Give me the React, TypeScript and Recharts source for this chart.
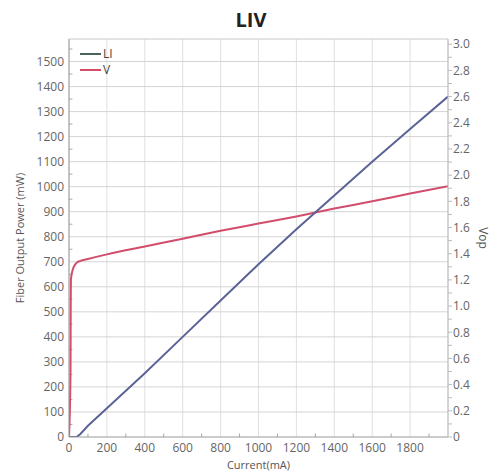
import React from 'react';
import { LineChart, Line, XAxis, YAxis, CartesianGrid, ReferenceLine } from 'recharts';

const currents = [0, 8, 9, 10, 15, 25, 40, 60, 100, 200, 400, 600, 800, 1000, 1200, 1400, 1600, 1800, 2000];
const liPower = [0, 0, 0, 0, 0, 0, 0, 12, 45, 115, 255, 400, 545, 690, 830, 965, 1100, 1230, 1360];
const vopValues = [0, 0.5, 1.0, 1.2, 1.25, 1.3, 1.33, 1.345, 1.36, 1.395, 1.455, 1.515, 1.575, 1.63, 1.685, 1.745, 1.8, 1.86, 1.915];

const xTicks = [0, 200, 400, 600, 800, 1000, 1200, 1400, 1600, 1800];
const powerTicks = [0, 100, 200, 300, 400, 500, 600, 700, 800, 900, 1000, 1100, 1200, 1300, 1400, 1500];
const vopTicks = [0, 0.1, 0.2, 0.3, 0.4, 0.5, 0.6, 0.7, 0.8, 0.9, 1.0, 1.1, 1.2, 1.3, 1.4, 1.5, 1.6, 1.7, 1.8, 1.9, 2.0, 2.1, 2.2, 2.3, 2.4, 2.5, 2.6, 2.7, 2.8, 2.9, 3.0];
const xMinor = [100, 300, 500, 700, 900, 1100, 1300, 1500, 1700, 1900];
const powerMinor = [50, 150, 250, 350, 450, 550, 650, 750, 850, 950, 1050, 1150, 1250, 1350, 1450, 1550];

const X_MAX = 2000;
const POWER_MAX = 1590;
const VOP_MAX = 3.04;

const LI_COLOR = '#5b6396';
const V_COLOR = '#d24c6c';
const GRID = '#e0e0e0';
const FONT = '"Open Sans", sans-serif';

const chartData = currents.map((c, i) => ({ current: c, li: liPower[i], vop: vopValues[i] }));

const tickStyle = { fontSize: 12, fill: '#666', fontFamily: FONT };

const App: React.FC = () => {
  return (
    <div style={{ position: 'absolute', left: 0, top: 0, width: 491, height: 473, background: '#fff', fontFamily: FONT }}>
      <div style={{
        position: 'absolute', left: 0, top: 6, width: 502, textAlign: 'center',
        fontSize: 20, fontWeight: 'bold', lineHeight: '27px', color: '#222'
      }}>
        LIV
      </div>

      {/* legend */}
      <div style={{ position: 'absolute', left: 80, top: 46, fontSize: 12, color: '#444', lineHeight: '16px', zIndex: 2 }}>
        <div style={{ display: 'flex', alignItems: 'center' }}>
          <span style={{ display: 'inline-block', width: 21, height: 1.5, background: '#4a635c', marginRight: 2 }} />
          LI
        </div>
        <div style={{ display: 'flex', alignItems: 'center' }}>
          <span style={{ display: 'inline-block', width: 21, height: 1.5, background: V_COLOR, marginRight: 2 }} />
          V
        </div>
      </div>

      <LineChart width={491} height={473} data={chartData} margin={{ top: 39, right: 0, bottom: 0, left: 0 }}>
        <CartesianGrid horizontal={false} stroke={GRID} />
        <XAxis
          dataKey="current"
          type="number"
          domain={[0, X_MAX]}
          ticks={xTicks}
          allowDataOverflow
          height={36}
          tick={tickStyle}
          tickSize={0}
          tickMargin={6}
          stroke="#999"
          label={{ value: 'Current(mA)', position: 'insideBottom', offset: 4, style: { fontSize: 11, fill: '#555', fontFamily: FONT } }}
        />
        <YAxis
          yAxisId="left"
          domain={[0, POWER_MAX]}
          ticks={powerTicks}
          allowDataOverflow
          width={69}
          tick={tickStyle}
          tickSize={0}
          tickMargin={5}
          stroke="#999"
          label={{ value: 'Fiber Output Power  (mW)', angle: -90, position: 'insideLeft', offset: 20, style: { textAnchor: 'middle', fontSize: 11, fill: '#555', fontFamily: FONT } }}
        />
        <YAxis
          yAxisId="right"
          orientation="right"
          domain={[0, VOP_MAX]}
          ticks={vopTicks}
          allowDataOverflow
          width={43}
          tick={tickStyle}
          tickSize={4}
          tickMargin={1}
          stroke="#bbb"
          tickFormatter={(v: number) => {
            const tenths = Math.round(v * 10);
            if (tenths === 0) return '0';
            return tenths % 2 === 0 ? v.toFixed(1) : '';
          }}
          label={{ value: 'Vop', angle: 90, position: 'insideRight', offset: 8, style: { textAnchor: 'middle', fontSize: 12, fill: '#555', fontFamily: FONT } }}
        />

        {/* horizontal grid on the power axis */}
        {powerTicks.filter(p => p > 0).map(p => (
          <ReferenceLine key={'hg' + p} yAxisId="left" y={p} stroke="#d4d4d4" strokeWidth={1} ifOverflow="visible" />
        ))}

        {/* top border of the plot */}
        <ReferenceLine yAxisId="left" y={POWER_MAX} stroke="#c8c8c8" />

        {/* minor ticks, drawn inside the plot */}
        {xMinor.map(m => (
          <ReferenceLine key={'xm' + m} yAxisId="left" segment={[{ x: m, y: 0 }, { x: m, y: 14 }]} stroke="#aaa" />
        ))}
        {powerMinor.map(m => (
          <ReferenceLine key={'pm' + m} yAxisId="left" segment={[{ x: 0, y: m }, { x: 18, y: m }]} stroke="#aaa" />
        ))}

        <Line
          yAxisId="right"
          type="monotone"
          dataKey="vop"
          stroke={V_COLOR}
          strokeWidth={2}
          dot={false}
          isAnimationActive={false}
        />
        <Line
          yAxisId="left"
          type="linear"
          dataKey="li"
          stroke={LI_COLOR}
          strokeWidth={2}
          dot={false}
          isAnimationActive={false}
        />
      </LineChart>
    </div>
  );
};

export default App;
